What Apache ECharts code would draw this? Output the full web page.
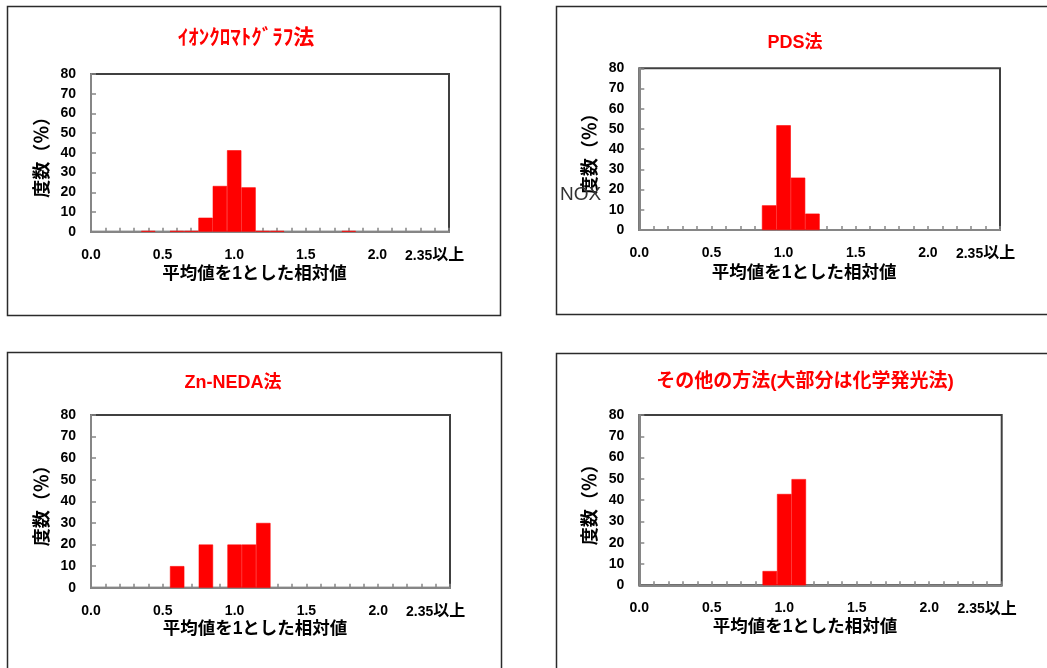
<!DOCTYPE html>
<html>
<head>
<meta charset="utf-8">
<script src="https://cdn.jsdelivr.net/npm/echarts@6/dist/echarts.min.js"></script>
<style>
  html, body { margin: 0; padding: 0; background: #ffffff; }
  #chart { width: 1047px; height: 668px; }
</style>
</head>
<body>
<div id="chart"></div>
<script>
// Bin centres of the relative value (mean = 1), 0.1 wide
const categories = ['0.0','0.1','0.2','0.3','0.4','0.5','0.6','0.7','0.8','0.9',
                    '1.0','1.1','1.2','1.3','1.4','1.5','1.6','1.7','1.8','1.9',
                    '2.0','2.1','2.2','2.3','2.4','2.5'];
// Text shown under the ticks
const xTickLabels = ['0.0','','','','','0.5','','','','','1.0','','','','','1.5','','','','','2.0','','','','2.35以上',''];

// Frequency (%) per bin for each method
const ionChromatographyValues = [0,0,0,0,0.4,0,0.4,0.4,7.1,23.2,41.3,22.5,0.4,0.4,0,0,0,0,0.4,0,0,0,0,0,0,0];
const pdsValues               = [0,0,0,0,0,0,0,0,0,12.2,51.8,25.9,8.1,0,0,0,0,0,0,0,0,0,0,0,0,0];
const znNedaValues            = [0,0,0,0,0,0,10,0,20,0,20,20,30,0,0,0,0,0,0,0,0,0,0,0,0,0];
const otherMethodValues       = [0,0,0,0,0,0,0,0,0,6.7,42.9,49.9,0,0,0,0,0,0,0,0,0,0,0,0,0,0];

const panelTitles = ['ｲｵﾝｸﾛﾏﾄｸﾞﾗﾌ法', 'PDS法', 'Zn-NEDA法', 'その他の方法(大部分は化学発光法)'];
const panelValues = [ionChromatographyValues, pdsValues, znNedaValues, otherMethodValues];
const xAxisName = '平均値を1とした相対値';
const yAxisName = '度数（％）';

const FONT = "'Liberation Sans','Noto Sans CJK JP',sans-serif";

// Page layout of the four panels
const layout = [
  { grid: { left: 91,    top: 74,  width: 358,   height: 157.7 }, title: [246, 38],  titleSize: 21, frame: [7.5, 6.5, 493, 309] },
  { grid: { left: 639.3, top: 68.3, width: 360.7, height: 161.7 }, title: [795, 43],  titleSize: 18, frame: [556.5, 6.5, 500, 308] },
  { grid: { left: 91,    top: 415, width: 359,   height: 172.7 }, title: [233, 383], titleSize: 18, frame: [7.5, 352.5, 494, 340] },
  { grid: { left: 639.3, top: 415, width: 362.4, height: 170.3 }, title: [805, 382], titleSize: 19, frame: [556.5, 353.5, 500, 340] }
];

// Splits "2.35以上" so the kanji part can be set a little larger
function tickLabel(v, idx) {
  const t = xTickLabels[idx];
  const m = t.match(/^([0-9.]+)(\D+)$/);
  return m ? `{n|${m[1]}}{k|${m[2]}}` : t;
}

// Filled bins get a thin same-colour edge so neighbouring bars join without seams
function barItems(values) {
  return values.map(v => v > 0
    ? { value: v, itemStyle: { borderColor: '#ff0000', borderWidth: 0.6 } }
    : v);
}

const grids = [], xAxes = [], yAxes = [], series = [], graphics = [];

layout.forEach((p, i) => {
  grids.push(Object.assign({ show: true, borderColor: '#404040', borderWidth: 2, backgroundColor: 'transparent' }, p.grid));

  xAxes.push({
    gridIndex: i,
    type: 'category',
    data: categories,
    boundaryGap: false,
    axisLine: { lineStyle: { color: '#868686', width: 2 } },
    axisTick: { inside: true, length: 4, interval: 0, lineStyle: { color: '#868686', width: 1.5 } },
    axisLabel: {
      interval: 0,
      margin: 16,
      formatter: tickLabel,
      color: '#000', fontSize: 14, fontWeight: 'bold', fontFamily: FONT,
      rich: {
        n: { color: '#000', fontSize: 14, fontWeight: 'bold', fontFamily: FONT },
        k: { color: '#000', fontSize: 16, fontWeight: 'bold', fontFamily: FONT }
      }
    },
    splitLine: { show: false },
    name: xAxisName,
    nameLocation: 'middle',
    nameGap: i < 2 ? 34 : 32,
    nameTextStyle: { color: '#000', fontSize: 17.5, fontWeight: 'bold', fontFamily: FONT, padding: [0, 31, 0, 0] }
  });

  yAxes.push({
    gridIndex: i,
    type: 'value',
    min: 0, max: 80, interval: 10,
    axisLine: { show: true, lineStyle: { color: '#868686', width: 2 } },
    axisTick: { show: true, inside: true, length: 5, lineStyle: { color: '#868686', width: 1.5 } },
    axisLabel: { margin: 15, color: '#000', fontSize: 14, fontWeight: 'bold', fontFamily: FONT },
    splitLine: { show: false },
    name: yAxisName,
    nameLocation: 'middle',
    nameGap: 39,
    nameTextStyle: { color: '#000', fontSize: 18, fontWeight: 'bold', fontFamily: FONT }
  });

  series.push({
    type: 'bar',
    xAxisIndex: i,
    yAxisIndex: i,
    data: barItems(panelValues[i]),
    barWidth: '100%',
    itemStyle: { color: '#ff0000' },
    silent: true
  });

  graphics.push({
    type: 'rect',
    shape: { x: p.frame[0], y: p.frame[1], width: p.frame[2], height: p.frame[3] },
    style: { fill: 'none', stroke: '#2b2b2b', lineWidth: 1.5 },
    z: 0
  });
  graphics.push({
    type: 'text',
    x: p.title[0], y: p.title[1],
    style: {
      text: panelTitles[i],
      fill: '#ff0000',
      font: `bold ${p.titleSize}px ${FONT}`,
      textAlign: 'center',
      textVerticalAlign: 'middle'
    },
    z: 10
  });
});

// Stray label sitting over the second panel's axis name
graphics.push({
  type: 'text',
  x: 560, y: 195,
  style: { text: 'NOX', fill: '#333333', font: `19px ${FONT}`, textAlign: 'left', textVerticalAlign: 'middle' },
  z: 10
});

const chart = echarts.init(document.getElementById('chart'), null, { renderer: 'canvas' });
chart.setOption({
  animation: false,
  backgroundColor: '#ffffff',
  grid: grids,
  xAxis: xAxes,
  yAxis: yAxes,
  series: series,
  graphic: graphics
});
</script>
</body>
</html>
